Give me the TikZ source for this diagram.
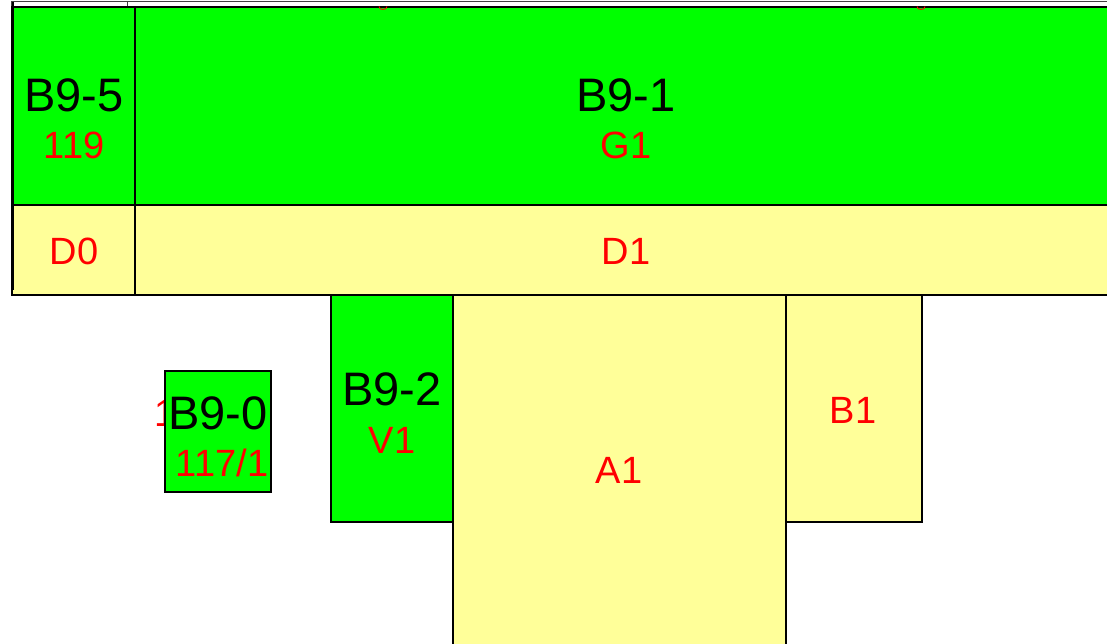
\documentclass[tikz,border=0pt]{standalone}
\usepackage{fontspec}
\setmainfont{Liberation Sans}
\definecolor{grn}{RGB}{0,255,0}
\definecolor{ylw}{RGB}{255,255,153}
\begin{document}
\begin{tikzpicture}[x=1pt,y=-1pt,
  box/.style={draw=black,line width=1.6pt,anchor=north west,inner sep=0pt,outer sep=0pt},
  gbox/.style={box,fill=grn},
  ybox/.style={box,fill=ylw},
  big/.style={font=\fontsize{47}{47}\selectfont,text=black,inner sep=0pt},
  sub/.style={font=\fontsize{38}{38}\selectfont,text=red,inner sep=0pt}]
\clip (0,0) rectangle (1107,643);
\fill[white] (0,0) rectangle (1107,643);
% top strip
\draw[draw=black!75,line width=1.2pt,fill=white] (12,1.5) rectangle (1120,7);
\draw[black!75,line width=0.8pt] (127,2) -- (127,7);
% red hidden label behind B9-0
\node[sub,anchor=east] (h1) at (176,413) {1};
% boxes
\node[gbox,minimum width=123,minimum height=198] (b95) at (12,7) {};
\node[gbox,minimum width=990,minimum height=198] (b91) at (135,7) {};
\node[ybox,minimum width=123,minimum height=90] (d0) at (12,205) {};
\node[ybox,minimum width=990,minimum height=90] (d1) at (135,205) {};
\node[gbox,minimum width=122,minimum height=227] (b92) at (331,295) {};
\node[ybox,minimum width=333,minimum height=360] (a1) at (453,295) {};
\node[ybox,minimum width=136,minimum height=227] (b1) at (786,295) {};
\node[gbox,minimum width=106,minimum height=121] (b90) at (165,371) {};
\draw[black,line width=2pt] (12.5,2) -- (12.5,290);
\draw[red,line width=0.9pt] (379,6.5) arc[start angle=180,end angle=0,x radius=4,y radius=3];
\draw[red,line width=0.9pt] (917,6.5) arc[start angle=180,end angle=0,x radius=4,y radius=3];
% labels
\node[big] (t95) at (74,95) {B9-5};
\node[sub] (s95) at (74,145) {119};
\node[big] (t91) at (626,95) {B9-1};
\node[sub] (s91) at (626,145) {G1};
\node[sub] (sd0) at (74,251) {D0};
\node[sub] (sd1) at (626,251) {D1};
\node[big] (t92) at (392,389) {B9-2};
\node[sub] (s92) at (392,440) {V1};
\node[sub] (sb1) at (853,410) {B1};
\node[sub] (sa1) at (619,470) {A1};
\node[big] (t90) at (218,413) {B9-0};
\node[sub] (s90) at (222,463) {117/1};
\end{tikzpicture}
\end{document}
